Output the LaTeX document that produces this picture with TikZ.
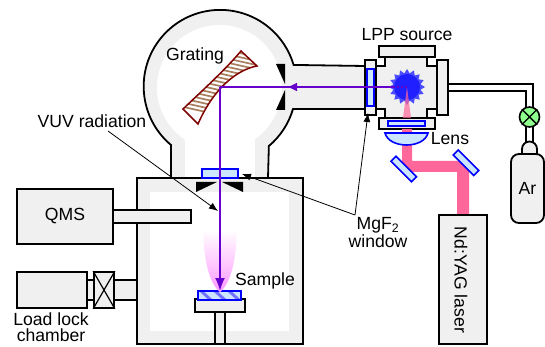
\documentclass[tikz,border=0pt]{standalone}
\usepackage{fontspec}
\setmainfont{Liberation Sans}
\usetikzlibrary{arrows.meta,shapes.geometric}
\definecolor{wallgray}{HTML}{F0F0F0}
\definecolor{glassblue}{HTML}{CCE6FF}
\definecolor{laserpink}{HTML}{FF6699}
\definecolor{rayviolet}{HTML}{6600CC}
\definecolor{ruling}{HTML}{A8805F}
\tikzset{
	wall/.style={draw=black, line width=1.8pt, fill=wallgray},
	glass/.style={draw=blue, line width=1.6pt, fill=glassblue},
	stop/.style={fill=black},
	ray/.style={draw=rayviolet, line width=2pt},
	pointer/.style={draw=black, line width=0.8pt, -{Latex[length=9pt,width=7pt]}},
	label/.style={font=\fontsize{17.6}{16.5}\selectfont, align=center, inner sep=0pt},
	box/.style={wall, inner sep=0pt, font=\fontsize{17.6}{16.5}\selectfont},
	mirror/.style={glass, rotate=-45, minimum width=29pt, minimum height=7pt, inner sep=0pt},
}
\begin{document}
\begin{tikzpicture}[x=1pt, y=1pt, yscale=-1]
	\useasboundingbox (0,0) rectangle (545,347);

	% chamber
	\fill[wallgray] (137,178) rectangle (303,344);
	\fill[white] (150,192) rectangle (289,331);

	% sphere and arm
	\fill[wallgray] (171,178) -- (171,145) arc (130:343.7:76.5) -- (365,66) -- (365,109) -- (293,109) arc (16.3:49.9:76.5) -- (268,178) -- cycle;
	\fill[white] (219.5,87.5) circle (62.5);
	\fill[white] (185,130) rectangle (255,178);
	\draw[line width=1.8pt] (171,178) -- (171,145) arc (130:343.7:76.5) -- (365,66) (365,109) -- (293,109) arc (16.3:49.9:76.5) -- (268,178);

	% side ports
	\draw[wall] (87,280) rectangle (137,300);
	\draw[line width=1.8pt] (137,178) rectangle (303,344);
	\draw[wall] (113,210) rectangle (191,223);
	\node[box, minimum width=96pt, minimum height=55pt] (qms) at (65,216.5) {QMS};
	\node[box, minimum width=70pt, minimum height=36pt] (lock) at (52,290) {};
	\node[box, minimum width=20pt, minimum height=36pt] (gate) at (104,290) {};
	\draw[line width=1.2pt] (gate.north west) -- (gate.south east) (gate.north east) -- (gate.south west);
	\node[label] (locklabel) at (51,327) {Load lock\\chamber};

	% stage
	\draw[wall] (215,312) rectangle (225,344);
	\draw[wall] (195,299) rectangle (245,312);
	\fill[glassblue] (198,291) rectangle (241,300);
	\begin{scope}
		\clip (198,291) rectangle (241,300);
		\foreach \i in {0,...,2}
			\draw[blue!55, line width=3pt] (200+\i*14,290) -- (212+\i*14,301);
	\end{scope}
	\draw[draw=blue, line width=1.6pt] (198,291) rectangle (241,300);

	% plume
	\shade[top color=white, bottom color=magenta!40] (203,230) .. controls (204,268) and (212,286) .. (220,292) .. controls (228,286) and (236,268) .. (237,230) -- cycle;

	% grating
	\fill[white] (241,51) -- (257,66) .. controls (240,69) and (215,85) .. (198,124) -- (183,109) .. controls (205,88) and (225,70) .. cycle;
	\begin{scope}
		\clip (241,51) -- (257,66) .. controls (240,69) and (215,85) .. (198,124) -- (183,109) .. controls (205,88) and (225,70) .. cycle;
		\foreach \i in {0,...,22}
			\draw[ruling, line width=1.7pt] (170+\i*3.4,104-\i*3.4) -- (215+\i*3.4,114-\i*3.4);
	\end{scope}
	\draw[draw=red!50!black, line width=1.5pt] (241,51) -- (257,66) .. controls (240,69) and (215,85) .. (198,124) -- (183,109) .. controls (205,88) and (225,70) .. cycle;
	\node[label] (grating) at (195,56) {Grating};

	% apertures
	\fill[stop] (276,64) -- (285,64) -- (285,84) -- cycle;
	\fill[stop] (276,110) -- (285,110) -- (285,90) -- cycle;
	\fill[stop] (196,182) -- (217,182) -- (196,192) -- cycle;
	\fill[stop] (243,182) -- (222,182) -- (243,192) -- cycle;
	\draw[glass] (202,169) rectangle (238,178);

	% LPP source
	\draw[wall] (376,66) -- (385,66) -- (385,57) -- (427,57) -- (427,66) -- (437,66) -- (437,109) -- (427,109) -- (427,118) -- (385,118) -- (385,109) -- (376,109) -- cycle;
	\draw[wall] (379,46) rectangle (435,57);
	\draw[wall] (437,60) rectangle (448,115);
	\draw[wall] (379,118) rectangle (435,129);
	\draw[wall] (365,60) rectangle (376,115);
	\draw[glass] (367,69) rectangle (374,106);
	\node[label] (lpp) at (407,35) {LPP source};
	\node[star, star points=16, star point ratio=1.3, fill=blue!70, minimum size=36pt, inner sep=0pt] (plasma) at (407,87) {};
	\fill[blue!88] (plasma) circle (13);

	% laser path
	\fill[laserpink, opacity=.7] (plasma.center) -- (403,118) -- (411,118) -- cycle;
	\fill[laserpink] (402,129) -- (412,129) -- (412,161) -- (469,161) -- (469,215) -- (457,215) -- (457,172) -- (402,172) -- cycle;
	\draw[glass] (388,121) rectangle (425,126);
	\draw[glass] (385,133) -- (428,133) .. controls (424,149) and (389,149) .. cycle;
	\node[mirror] (mirrora) at (403.7,169) {};
	\node[mirror] (mirrorb) at (466,162.7) {};
	\node[label] (lens) at (450,139) {Lens};
	\node[box, minimum width=48pt, minimum height=129pt] (yag) at (463,279.5) {};
	\node[label, rotate=-90] (yaglabel) at (461,280) {Nd:YAG laser};

	% ray
	\coordinate (focus) at (220,87);
	\draw[ray, dotted] (plasma.center) -- (393,87);
	\draw[ray, -{Latex[length=10pt,width=9pt]}] (393,87) -- (287,87);
	\draw[ray] (290,87) -- (focus);
	\coordinate (rayend) at (220,291);
	\draw[ray, -{Latex[length=13pt,width=10pt]}] (focus) -- (rayend);
	\node[label] (sample) at (265,281) {Sample};

	% gas line
	\node[draw, line width=1.6pt, circle, fill=green!45!white, minimum size=20pt, inner sep=0pt] (valve) at (529.5,117) {};
	\draw[line width=1.4pt] (valve.45) -- (valve.225) (valve.135) -- (valve.315);
	\draw[line width=1.5pt] (448,84) -- (533,84) -- (533,107) (448,91) -- (526,91) -- (526,107);
	\draw[line width=1.5pt] (526,127) -- (526,142) (533,127) -- (533,142);
	\draw[wall] (522,154) -- (522,149) arc (180:360:7.5) -- (537,154) -- cycle;
	\node[box, rounded corners=8pt, minimum width=33pt, minimum height=69pt] (ar) at (527.5,188.5) {Ar};

	% callouts
	\node[label] (vuv) at (92,121) {VUV radiation};
	\coordinate (vuvstart) at (108,131);
	\coordinate (vuvend) at (218,211);
	\draw[pointer] (vuvstart) -- (vuvend);
	\node[label] (mgf) at (378,233) {MgF\textsubscript{2}\\[1.5pt]window};
	\coordinate (mgfbend) at (355,215);
	\coordinate (topwin) at (242,174);
	\coordinate (sidewin) at (368,113);
	\draw[pointer] (mgfbend) -- (topwin);
	\draw[pointer] (mgfbend) -- (sidewin);
\end{tikzpicture}
\end{document}
